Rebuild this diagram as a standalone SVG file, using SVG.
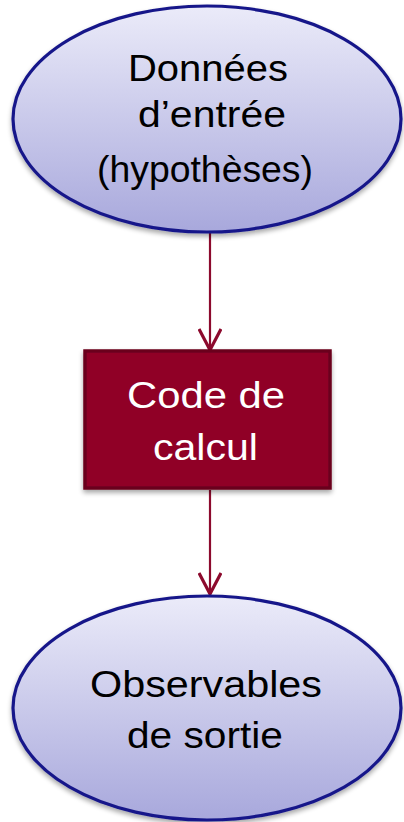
<svg xmlns="http://www.w3.org/2000/svg" width="404" height="822" viewBox="0 0 404 822">
  <defs>
    <linearGradient id="ovalFill" x1="0" y1="0" x2="0" y2="1">
      <stop offset="0" stop-color="#ebebf9"/>
      <stop offset="1" stop-color="#a8a8dc"/>
    </linearGradient>
    <filter id="shadow" x="-10%" y="-10%" width="120%" height="130%">
      <feGaussianBlur in="SourceAlpha" stdDeviation="2.5"/>
      <feOffset dx="0" dy="3" result="b"/>
      <feComponentTransfer><feFuncA type="linear" slope="0.35"/></feComponentTransfer>
      <feMerge><feMergeNode/><feMergeNode in="SourceGraphic"/></feMerge>
    </filter>
    <!-- open V arrowhead, drawn along +x so orient="auto" points it down the line -->
    <marker id="vhead" viewBox="0 0 24 24" markerWidth="24" markerHeight="24" refX="22" refY="12" orient="auto" markerUnits="userSpaceOnUse">
      <path d="M1,1 L22,12 L1,23" fill="none" stroke="#8c0a2d" stroke-width="3.2"/>
    </marker>
  </defs>
  <style>
    .oval { fill: url(#ovalFill); stroke: #18198a; stroke-width: 3.2; }
    .box { fill: #900028; stroke: #6b001e; stroke-width: 3.5; }
    .lbl { font-family: "Liberation Sans", Arial, sans-serif; font-size: 37px; text-anchor: middle; }
    .dark { fill: #000000; }
    .light { fill: #ffffff; }
    .link { fill: none; stroke: #8c0a2d; stroke-width: 2.2; }
  </style>

  <g id="connectors">
    <line class="link" x1="210" y1="233" x2="210" y2="350" marker-end="url(#vhead)"/>
    <line class="link" x1="210" y1="490" x2="210" y2="594" marker-end="url(#vhead)"/>
  </g>

  <g id="input">
    <ellipse class="oval" cx="207" cy="119" rx="194" ry="113" filter="url(#shadow)"/>
    <text class="lbl dark" x="208" y="81" textLength="160" lengthAdjust="spacingAndGlyphs">Données</text>
    <text class="lbl dark" x="212" y="127" textLength="148" lengthAdjust="spacingAndGlyphs">d’entrée</text>
    <text class="lbl dark" x="205" y="182" textLength="216" lengthAdjust="spacingAndGlyphs">(hypothèses)</text>
  </g>

  <g id="code">
    <rect class="box" x="85" y="351" width="245" height="137" filter="url(#shadow)"/>
    <text class="lbl light" x="206" y="408" textLength="158" lengthAdjust="spacingAndGlyphs">Code de</text>
    <text class="lbl light" x="205.5" y="460" textLength="105" lengthAdjust="spacingAndGlyphs">calcul</text>
  </g>

  <g id="output">
    <ellipse class="oval" cx="207" cy="708" rx="194" ry="112" filter="url(#shadow)"/>
    <text class="lbl dark" x="206" y="697" textLength="232" lengthAdjust="spacingAndGlyphs">Observables</text>
    <text class="lbl dark" x="205" y="748" textLength="156" lengthAdjust="spacingAndGlyphs">de sortie</text>
  </g>
</svg>
